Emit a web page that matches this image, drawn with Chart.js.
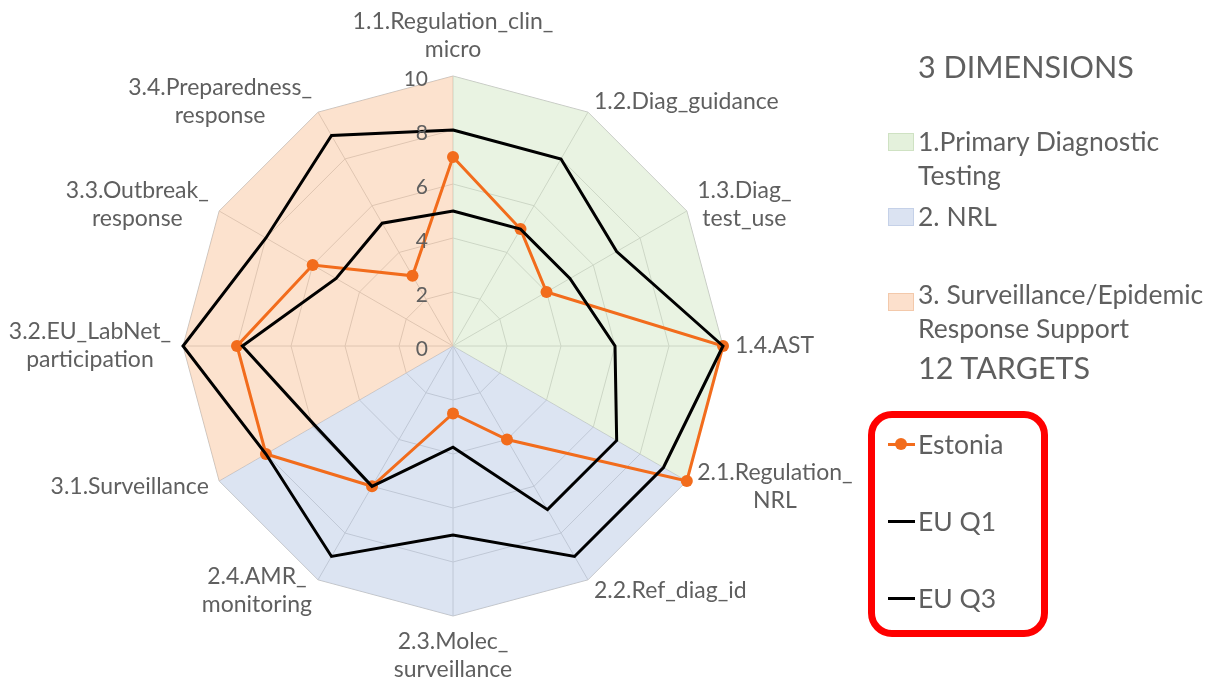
<!DOCTYPE html>
<html>
<head>
<meta charset="utf-8">
<title>Estonia – 3 dimensions, 12 targets</title>
<script src="https://cdn.jsdelivr.net/npm/chart.js@4.4.1/dist/chart.umd.min.js"></script>
<style>
  html, body { margin: 0; padding: 0; background: #ffffff; }
  #wrap { position: relative; width: 1212px; height: 682px; overflow: hidden; font-family: 'Lato', 'Open Sans', sans-serif; color: #5f5f5f; }
  #chart { position: absolute; left: 0; top: 0; }
  .legend { position: absolute; left: 0; top: 0; width: 1212px; height: 682px; pointer-events: none; }
  .head { position: absolute; left: 918px; font-size: 30.5px; line-height: 30px; white-space: nowrap; }
  .item { position: absolute; left: 918px; font-size: 26.5px; line-height: 34px; white-space: nowrap; }
  .swatch { position: absolute; left: 888px; width: 26px; height: 18px; box-sizing: border-box; }
  .box { position: absolute; left: 868px; top: 411px; width: 180px; height: 226px; box-sizing: border-box; border: 7px solid #ff0000; border-radius: 24px; }
  .key { position: absolute; left: 888px; width: 27px; height: 3px; }
  .dot { position: absolute; width: 12px; height: 12px; border-radius: 50%; }
</style>
</head>
<body>
<div id="wrap">
  <canvas id="chart" width="1212" height="682"></canvas>
  <div class="legend" id="legend"></div>
</div>
<script>
// Axis labels (one entry per target, split into the lines they are shown on)
const targetLabels = [
  ['1.1.Regulation_clin_', 'micro'],
  ['1.2.Diag_guidance'],
  ['1.3.Diag_', 'test_use'],
  ['1.4.AST'],
  ['2.1.Regulation_', 'NRL'],
  ['2.2.Ref_diag_id'],
  ['2.3.Molec_', 'surveillance'],
  ['2.4.AMR_', 'monitoring'],
  ['3.1.Surveillance'],
  ['3.2.EU_LabNet_', 'participation'],
  ['3.3.Outbreak_', 'response'],
  ['3.4.Preparedness_', 'response']
];

// Scores per target
const estonia = [7, 5, 4, 10, 10, 4, 2.5, 6, 8, 8, 6, 3];
const euQ1    = [5, 5, 5, 6, 7, 7, 3.75, 6, 5.9, 7.8, 5, 5.25];
const euQ3    = [8, 8, 7, 10, 9, 9, 7, 9, 8, 10, 8, 9];

// Background sectors for the three dimensions
const dimPrimary      = [10, 10, 10, 10, 10, 0, 0, 0, 0, 0, 0, 0];
const dimNrl          = [0, 0, 0, 0, 10, 10, 10, 10, 10, 0, 0, 0];
const dimSurveillance = [10, 0, 0, 0, 0, 0, 0, 0, 10, 10, 10, 10];

const dimensionNames = ['1.Primary Diagnostic Testing', '2. NRL', '3. Surveillance/Epidemic Response Support'];
const seriesNames = ['Estonia', 'EU Q1', 'EU Q3'];
const tickValues = [0, 2, 4, 6, 8, 10];

const TEXT = '#5f5f5f';
const ORANGE = '#f26c1c';
const GRID = '#c6c6c6';
const FONT = "'Lato', 'Open Sans', sans-serif";

// sector tints (semi-transparent so the web shows through)
const sectorFill = ['rgba(211,231,197,0.5)', 'rgba(185,201,229,0.5)', 'rgba(249,197,157,0.5)'];
const sectorSwatch = ['#e4f1dc', '#dbe3f2', '#fce0cc'];
const sectorEdge = ['#cfe2c3', '#c5d1e8', '#f3c9ab'];

// Tick numbers to the left of the vertical axis
const tickLabelPlugin = {
  id: 'tickLabels',
  afterDatasetsDraw(chart) {
    const r = chart.scales.r;
    const ctx = chart.ctx;
    ctx.save();
    ctx.font = '21px ' + FONT;
    ctx.fillStyle = TEXT;
    ctx.textAlign = 'right';
    ctx.textBaseline = 'middle';
    tickValues.forEach(v => {
      const p = r.getPointPositionForValue(0, v);
      ctx.fillText(String(v), p.x - 25, p.y + 3);
    });
    ctx.restore();
  }
};

// Target names around the web
const pointLabelPlugin = {
  id: 'targetLabels',
  afterDraw(chart) {
    const r = chart.scales.r;
    const ctx = chart.ctx;
    const n = targetLabels.length;
    const lineH = 28;
    ctx.save();
    ctx.font = '23px ' + FONT;
    ctx.fillStyle = TEXT;
    ctx.textAlign = 'center';
    ctx.textBaseline = 'middle';
    targetLabels.forEach((lines, i) => {
      const p = r.getPointPosition(i, r.drawingArea + 12);
      const deg = i * 360 / n;
      const w = Math.max(...lines.map(s => ctx.measureText(s).width));
      const h = lines.length * lineH;
      let cx = p.x, cy = p.y;
      if (deg === 0) { cy = p.y - h / 2; }
      else if (deg === 180) { cy = p.y + h / 2; }
      else if (deg < 180) { cx = p.x + w / 2; }
      else { cx = p.x - w / 2; }
      lines.forEach((s, k) => {
        ctx.fillText(s, cx, cy - h / 2 + lineH * (k + 0.5));
      });
    });
    ctx.restore();
  }
};

const lineSet = (label, data, color, withDots) => ({
  label, data,
  borderColor: color,
  backgroundColor: color,
  borderWidth: 3,
  fill: false,
  tension: 0,
  pointRadius: withDots ? 6 : 0,
  pointBorderWidth: 0,
  pointBackgroundColor: color,
  pointHoverRadius: withDots ? 6 : 0
});

const areaSet = (label, data, color) => ({
  label, data,
  borderWidth: 0,
  borderColor: 'rgba(0,0,0,0)',
  backgroundColor: color,
  fill: 'origin',
  pointRadius: 0,
  pointHoverRadius: 0
});

new Chart(document.getElementById('chart'), {
  type: 'radar',
  data: {
    labels: targetLabels,
    datasets: [
      lineSet(seriesNames[2], euQ3, '#000000', false),
      lineSet(seriesNames[1], euQ1, '#000000', false),
      lineSet(seriesNames[0], estonia, ORANGE, true),
      areaSet(dimensionNames[0], dimPrimary, sectorFill[0]),
      areaSet(dimensionNames[1], dimNrl, sectorFill[1]),
      areaSet(dimensionNames[2], dimSurveillance, sectorFill[2])
    ]
  },
  options: {
    responsive: false,
    animation: false,
    layout: { padding: { left: 183, right: 489, top: 76, bottom: 66 } },
    plugins: { legend: { display: false }, tooltip: { enabled: false } },
    elements: { line: { borderJoinStyle: 'miter' } },
    scales: {
      r: {
        min: 0,
        max: 10,
        ticks: { display: false, stepSize: 2 },
        grid: { color: GRID, lineWidth: 1 },
        angleLines: { color: GRID, lineWidth: 1 },
        pointLabels: { display: false }
      }
    }
  },
  plugins: [tickLabelPlugin, pointLabelPlugin]
});

// Legend panel on the right
(function buildLegend() {
  const el = document.getElementById('legend');
  const add = (cls, css, text) => {
    const d = document.createElement('div');
    d.className = cls;
    Object.assign(d.style, css);
    if (text) d.textContent = text;
    el.appendChild(d);
    return d;
  };
  add('head', { top: '51px' }, '3 DIMENSIONS');
  const dimRows = [
    { sw: 133, lines: ['1.Primary Diagnostic', 'Testing'], top: 124 },
    { sw: 208, lines: ['2. NRL'], top: 199 },
    { sw: 293, lines: ['3. Surveillance/Epidemic', 'Response Support'], top: 277 }
  ];
  dimRows.forEach((row, i) => {
    add('swatch', { top: row.sw + 'px', background: sectorSwatch[i], border: '1px solid ' + sectorEdge[i] });
    const t = add('item', { top: row.top + 'px' });
    t.innerHTML = row.lines.join('<br>');
    t.title = dimensionNames[i];
  });
  add('head', { top: '352px' }, '12 TARGETS');
  add('box', {});
  const keyRows = [
    { y: 444, color: ORANGE, dot: true },
    { y: 521, color: '#000000', dot: false },
    { y: 598, color: '#000000', dot: false }
  ];
  keyRows.forEach((row, i) => {
    add('key', { top: (row.y - 1) + 'px', background: row.color });
    if (row.dot) add('dot', { left: '895px', top: (row.y - 6) + 'px', background: row.color });
    add('item', { top: (row.y - 17) + 'px' }, seriesNames[i]);
  });
})();
</script>
</body>
</html>
